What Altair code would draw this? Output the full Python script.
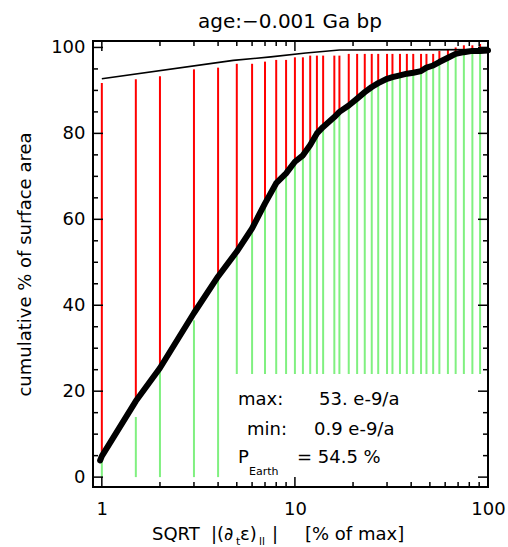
import altair as alt
import pandas as pd

# ---------------- data ----------------
x_pos = [1, 1.5, 2, 3, 4, 5, 6, 7, 8, 9, 10, 11, 12, 13, 14, 16, 17, 19, 21, 23,
         25, 27, 30, 32, 35, 38, 41, 45, 48, 52, 56, 62, 68, 75, 83, 91]
curve_at_lines = [4.9, 17.7, 25.4, 38.2, 46.7, 52.5, 57.9, 63.7, 68.4, 70.7, 73.4,
                  74.9, 77.3, 80.0, 81.5, 83.8, 85.0, 86.5, 88.1, 89.6, 90.8, 91.7,
                  92.7, 93.1, 93.5, 93.9, 94.1, 94.5, 95.3, 95.8, 96.6, 97.6, 98.5,
                  98.9, 99.2, 99.2]
red_top = [91.7, 92.6, 93.3, 94.9, 95.3, 96.2, 96.2, 96.7, 97.1, 97.1, 97.7, 97.7,
           98.1, 98.1, 98.1, 98.1, 98.1, 98.5, 98.5, 98.5, 98.5, 98.5, 98.5, 98.5,
           98.5, 98.5, 98.5, 98.5, 98.5, 98.5, 99.2, 99.4, 100.0, 100.5, 100.5, 100.8]
green_bottom = [0, 0, 0, 0, 0] + [24] * 31
green_top = [4.2, 14.0, 25.0, 36.5, 46.0, 51.5, 57.9, 63.7, 68.4, 70.7, 73.4,
             74.9, 77.3, 80.0, 81.5, 83.8, 85.0, 86.5, 88.1, 89.6, 90.8, 91.7,
             92.7, 93.1, 93.5, 93.9, 94.1, 94.5, 95.3, 95.8, 96.6, 97.6, 98.5,
             98.9, 99.2, 99.2]

curve_x = [0.98] + x_pos + [100]
curve_y = [3.9] + curve_at_lines + [99.3]

upper_x = [1, 4.8, 7.5, 11.4, 17, 100]
upper_y = [92.7, 97.0, 97.8, 98.7, 99.4, 99.5]

x_major = [1, 10, 100]
x_minor = [2, 3, 4, 5, 6, 7, 8, 9, 20, 30, 40, 50, 60, 70, 80, 90]
y_major = [0, 20, 40, 60, 80, 100]
y_minor = [5, 10, 15, 25, 30, 35, 45, 50, 55, 65, 70, 75, 85, 90, 95]

title_text = "age:−0.001 Ga bp"
y_title = "cumulative % of surface area"

# ---------------- chart ----------------
W, H = 395, 446
FONT = "DejaVu Sans"
xscale = alt.Scale(type="log", domain=[0.9, 100], nice=False)
yscale = alt.Scale(domain=[-2.3, 101.5], nice=False, zero=False)

xaxis = alt.Axis(values=x_major, format=".0f", domain=False, ticks=False, grid=False,
                 labelFont=FONT, labelFontSize=18, labelColor="black",
                 labelPadding=13, labelFlush=False, labelOverlap=False, title=None)
yaxis = alt.Axis(values=y_major, format="d", domain=False, ticks=False, grid=False,
                 labelFont=FONT, labelFontSize=18, labelColor="black",
                 labelPadding=8, labelFlush=False, labelOverlap=False,
                 title=y_title, titleFont=FONT, titleFontSize=18,
                 titleFontWeight="normal", titleColor="black", titleX=-68, titleY=223,
                 titleAngle=270, titleAlign="center", titleBaseline="middle")

lines_df = pd.DataFrame({"x": x_pos, "curve": curve_at_lines, "red_top": red_top,
                         "g0": green_bottom, "g1": green_top})
base = alt.Chart(lines_df)

green = base.mark_rule(color="#80f080", strokeWidth=2).encode(
    x=alt.X("x:Q", scale=xscale, axis=xaxis),
    y=alt.Y("g0:Q", scale=yscale, axis=yaxis),
    y2="g1:Q",
)
red = base.mark_rule(color="#ff0000", strokeWidth=2).encode(
    x=alt.X("x:Q", scale=xscale, title=None),
    y=alt.Y("curve:Q", scale=yscale, title=y_title),
    y2="red_top:Q",
)

upper = alt.Chart(pd.DataFrame({"x": upper_x, "y": upper_y})).mark_line(
    color="black", strokeWidth=1.6).encode(
    x=alt.X("x:Q", scale=xscale, title=None),
    y=alt.Y("y:Q", scale=yscale, title=y_title),
)
curve = alt.Chart(pd.DataFrame({"x": curve_x, "y": curve_y})).mark_line(
    color="black", strokeWidth=6, strokeJoin="round", strokeCap="round").encode(
    x=alt.X("x:Q", scale=xscale, title=None),
    y=alt.Y("y:Q", scale=yscale, title=y_title),
)

def xticks(vals, length):
    d = alt.Chart(pd.DataFrame({"v": vals}))
    enc = dict(x=alt.X("v:Q", scale=xscale, title=None))
    bot = d.mark_rule(color="black", strokeWidth=1.5).encode(
        y=alt.value(H), y2=alt.value(H - length), **enc)
    top = d.mark_rule(color="black", strokeWidth=1.5).encode(
        y=alt.value(0), y2=alt.value(length), **enc)
    return [bot, top]

def yticks(vals, length):
    d = alt.Chart(pd.DataFrame({"v": vals}))
    enc = dict(y=alt.Y("v:Q", scale=yscale, title=y_title))
    left = d.mark_rule(color="black", strokeWidth=1.5).encode(
        x=alt.value(0), x2=alt.value(length), **enc)
    right = d.mark_rule(color="black", strokeWidth=1.5).encode(
        x=alt.value(W), x2=alt.value(W - length), **enc)
    return [left, right]

ticks = xticks(x_major, 10) + xticks(x_minor, 5) + yticks(y_major, 10) + yticks(y_minor, 5)

one = pd.DataFrame({"a": [0]})

def label(text, x, y, size=18, align="left"):
    return alt.Chart(one).mark_text(
        text=text, font=FONT, fontSize=size, color="black", align=align,
        baseline="alphabetic").encode(x=alt.value(x), y=alt.value(y))

texts = [
    label(title_text, 197, -13, size=20, align="center"),
    label("max:", 145, 364),
    label("53. e-9/a", 226, 364),
    label("min:", 154, 394),
    label("0.9 e-9/a", 221, 394),
    label("P", 145, 422),
    label("Earth", 156, 434, size=11),
    label("= 54.5 %", 204, 422),
    label("SQRT", 59, 499),
    label("|(∂", 118, 499),
    label("t", 143, 504, size=11),
    label("ε)", 147, 499),
    label("II", 166, 504, size=10),
    label("|", 179, 499),
    label("[% of max]", 212, 499),
]

chart = alt.layer(green, red, upper, curve, *ticks, *texts).properties(
    width=W, height=H,
    autosize=alt.AutoSizeParams(type="none"),
    padding={"left": 93, "top": 41, "right": 20, "bottom": 60},
    background="white",
).configure_view(stroke="black", strokeWidth=2)

chart.save("out.html", embed_options={"renderer": "svg", "actions": False})
